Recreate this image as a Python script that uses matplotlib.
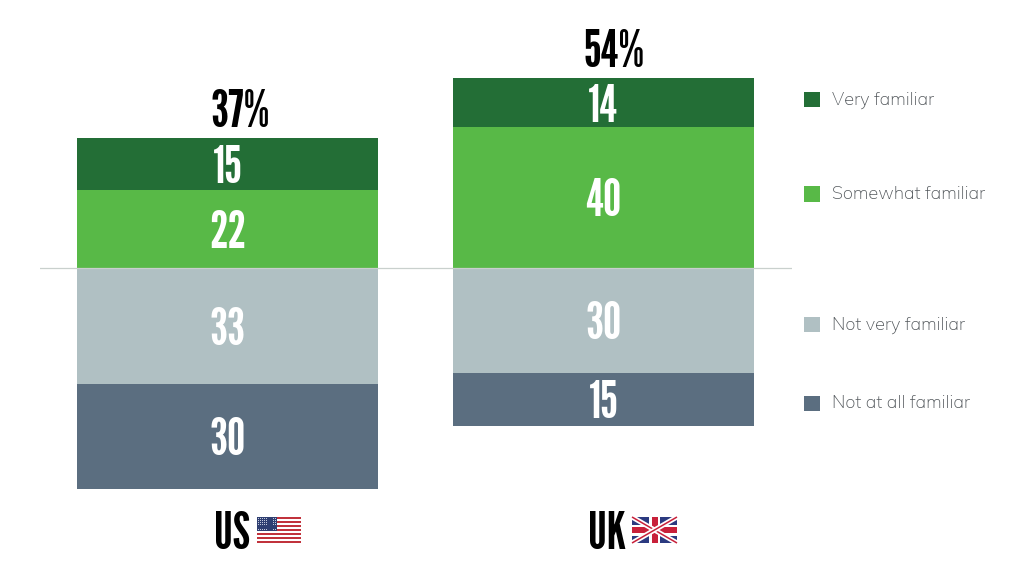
#!/usr/bin/env python3

import matplotlib
matplotlib.use('Agg')
import matplotlib.pyplot as plt
from matplotlib.patches import Rectangle

# Survey values, percent
countries = ['US', 'UK']
very_familiar = [15, 14]
somewhat_familiar = [22, 40]
not_very_familiar = [33, 30]
not_at_all_familiar = [30, 15]
familiar_totals = ['37%', '54%']
legend_labels = ['Very familiar', 'Somewhat familiar', 'Not very familiar', 'Not at all familiar']

dark_green = '#236e36'
light_green = '#58b947'
light_grey = '#b0c0c3'
slate = '#5b6e80'
legend_colors = [dark_green, light_green, light_grey, slate]

big_font = ['League Gothic', 'Antonio', 'Anton', 'Liberation Sans']
thin_font = ['Mulish', 'Nunito Sans', 'Lato', 'DejaVu Sans']

W, H = 1024, 576
scale = 3.51  # pixels per percentage point
zero_y = 267.7
fig = plt.figure(figsize=(W / 100, H / 100), dpi=100)
ax = fig.add_axes([39.5 / W, 0, 752 / W, 1])
ax.set_xlim(-0.5, 1.5)
ax.set_ylim(-(H - zero_y) / scale, zero_y / scale)
ax.axis('off')

# stacked bars above and below the zero line
x = [0, 1]
bar_w = 0.8
ax.bar(x, somewhat_familiar, bar_w, color=light_green)
ax.bar(x, very_familiar, bar_w, bottom=somewhat_familiar, color=dark_green)
ax.bar(x, [-v for v in not_very_familiar], bar_w, color=light_grey)
ax.bar(x, [-v for v in not_at_all_familiar], bar_w, bottom=[-v for v in not_very_familiar], color=slate)
ax.axhline(0, color='#c9d0cd', lw=0.9, zorder=3)

num_style = dict(ha='center', va='center_baseline', color='white', family=big_font, fontsize=37)
for i in x:
    ax.text(i, somewhat_familiar[i] / 2, str(somewhat_familiar[i]), **num_style)
    ax.text(i, somewhat_familiar[i] + very_familiar[i] / 2, str(very_familiar[i]), **num_style)
    ax.text(i, -not_very_familiar[i] / 2, str(not_very_familiar[i]), **num_style)
    ax.text(i, -not_very_familiar[i] - not_at_all_familiar[i] / 2, str(not_at_all_familiar[i]), **num_style)
    top = somewhat_familiar[i] + very_familiar[i]
    fig.text((240 + 374 * i) / W, 1 - (zero_y - top * scale - 30) / H, familiar_totals[i], ha='center',
             va='center_baseline', color='black', family=big_font, fontsize=37)

# country names
for name, px in zip(countries, [232, 607]):
    fig.text(px / W, 1 - 530 / H, name, ha='center', va='center_baseline', color='black',
             family=big_font, fontsize=37)

# legend, by hand because the gaps are uneven
overlay = fig.add_axes([0, 0, 1, 1])
overlay.set_xlim(0, W)
overlay.set_ylim(H, 0)
overlay.axis('off')
overlay.patch.set_alpha(0)
for label, color, cy in zip(legend_labels, legend_colors, [99, 193.5, 324, 403]):
    overlay.add_patch(Rectangle((804, cy - 7.5), 15.5, 15.5, color=color, lw=0))
    overlay.text(832, cy + 1, label, ha='left', va='center', color='#555a5e',
                 family=thin_font, fontsize=13)

# US flag
fx, fy, fw, fh = 257, 517, 44, 26
stripe = fh / 13
for s in range(13):
    overlay.add_patch(Rectangle((fx, fy + s * stripe), fw, stripe, lw=0,
                                color='#c1323c' if s % 2 == 0 else 'white'))
overlay.add_patch(Rectangle((fx, fy), 20, stripe * 7, color='#2f3f72', lw=0))
for r in range(7):
    for c in range(9):
        overlay.add_patch(Rectangle((fx + 1 + c * 2.1, fy + 1 + r * 1.9), 0.8, 0.8, color='#c4cadb', lw=0))

# UK flag
fx, fy = 632, 517
fw, fh = 45, 26
overlay.add_patch(Rectangle((fx, fy), fw, fh, color='#2b3a80', lw=0))
for a, b in [((fx, fy), (fx + fw, fy + fh)), ((fx + fw, fy), (fx, fy + fh))]:
    overlay.plot([a[0], b[0]], [a[1], b[1]], color='white', lw=3.6, solid_capstyle='butt')
    overlay.plot([a[0], b[0]], [a[1], b[1]], color='#c8203a', lw=1.1, solid_capstyle='butt')
overlay.add_patch(Rectangle((fx + fw / 2 - 5.5, fy), 11, fh, color='white', lw=0))
overlay.add_patch(Rectangle((fx, fy + fh / 2 - 5.5), fw, 11, color='white', lw=0))
overlay.add_patch(Rectangle((fx + fw / 2 - 3, fy), 6, fh, color='#c8203a', lw=0))
overlay.add_patch(Rectangle((fx, fy + fh / 2 - 3), fw, 6, color='#c8203a', lw=0))

fig.savefig('out.png', dpi=100, facecolor='white')
